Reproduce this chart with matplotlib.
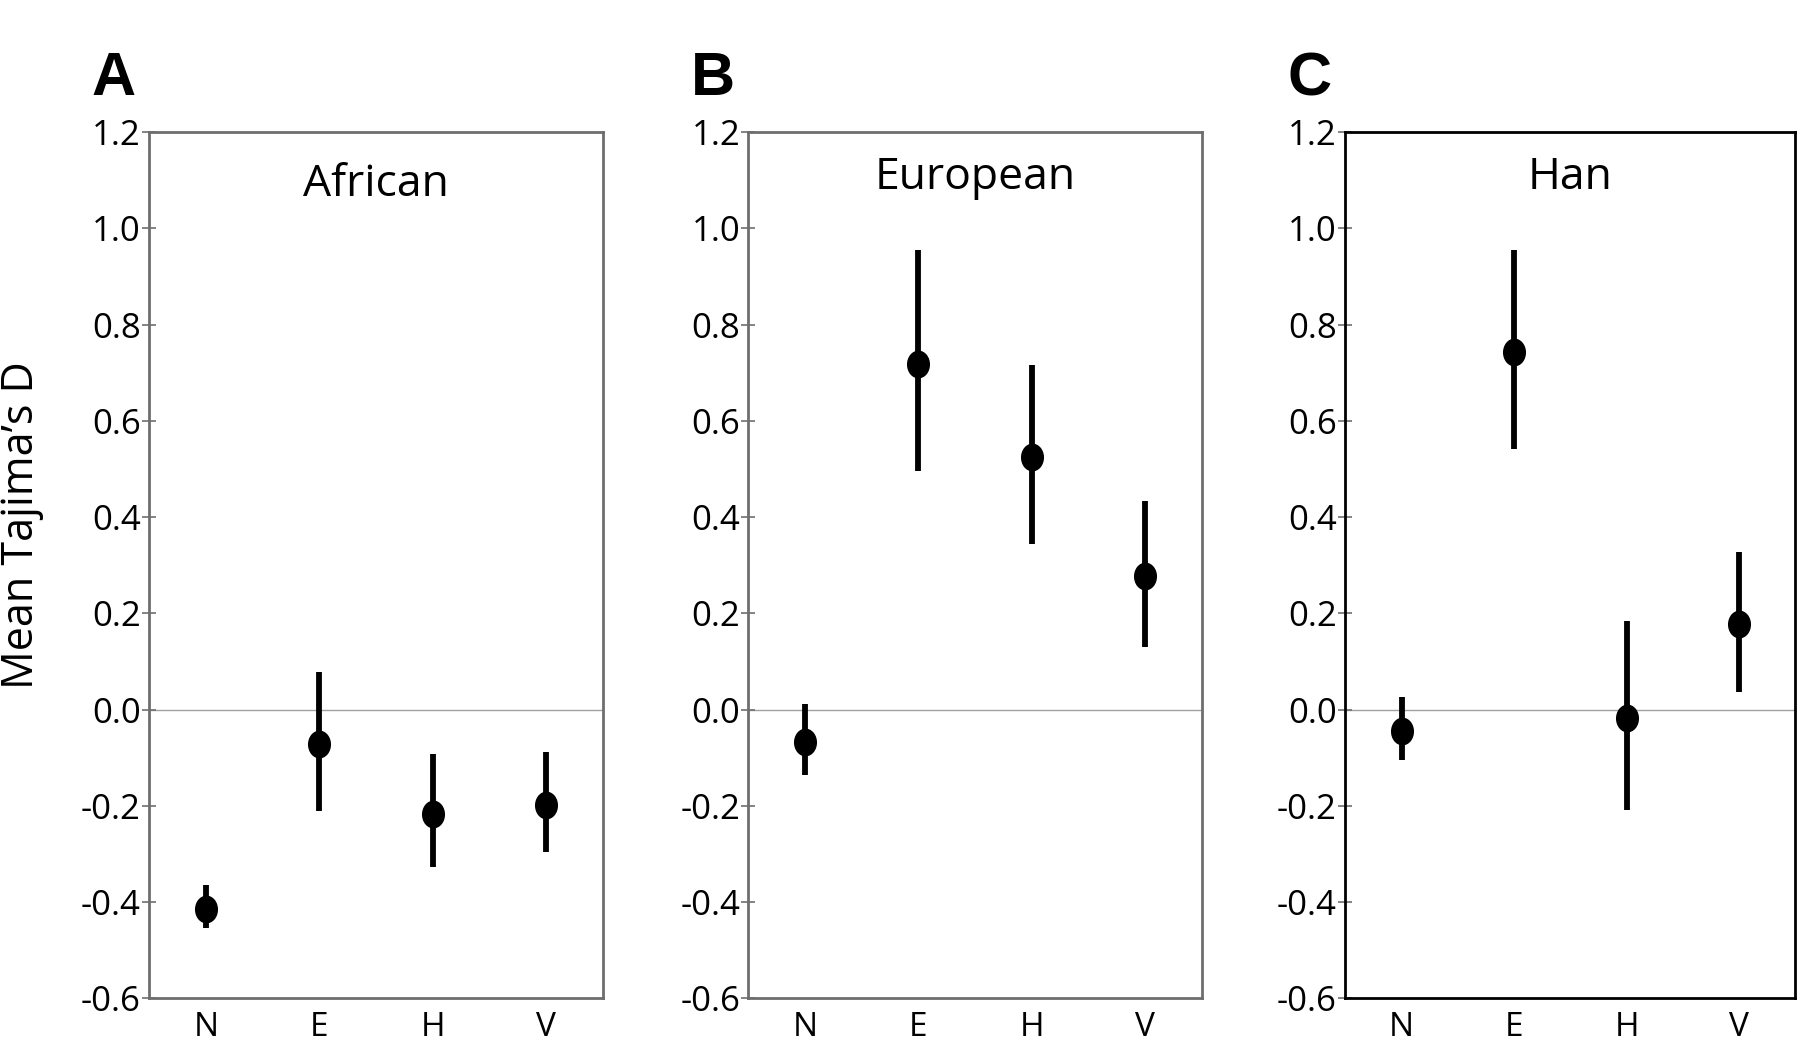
import matplotlib
matplotlib.use("Agg")
import matplotlib.pyplot as plt
import numpy as np
from matplotlib.path import Path

categories = ["N", "E", "H", "V"]
panels = ["A", "B", "C"]
populations = ["African", "European", "Han"]

african_mean = [-0.415, -0.072, -0.217, -0.198]
african_hi = [-0.365, 0.079, -0.093, -0.088]
african_lo = [-0.453, -0.210, -0.327, -0.296]

european_mean = [-0.067, 0.718, 0.525, 0.277]
european_hi = [0.012, 0.954, 0.716, 0.434]
european_lo = [-0.136, 0.496, 0.343, 0.129]

han_mean = [-0.045, 0.742, -0.017, 0.177]
han_hi = [0.026, 0.954, 0.184, 0.327]
han_lo = [-0.105, 0.541, -0.208, 0.036]

yticks = [-0.6, -0.4, -0.2, 0.0, 0.2, 0.4, 0.6, 0.8, 1.0, 1.2]
ytick_labels = ["-0.6", "-0.4", "-0.2", "0.0", "0.2", "0.4", "0.6", "0.8", "1.0", "1.2"]

data = [
    (african_mean, african_hi, african_lo),
    (european_mean, european_hi, european_lo),
    (han_mean, han_hi, han_lo),
]

plt.rcParams["font.family"] = ["Open Sans", "DejaVu Sans"]

fig = plt.figure(figsize=(18, 10.5), dpi=100)

lefts = [0.0829, 0.4158, 0.7474]
widths = [0.2519, 0.2519, 0.2500]
bottom, height = 0.0492, 0.8251
spine_colors = ["#6e6e6e", "#6e6e6e", "#000000"]
title_y = [1.09, 1.105, 1.105]

# ellipse marker (taller than wide)
circ = Path.unit_circle()
ell = Path(circ.vertices * np.array([0.82, 1.0]), circ.codes)

x = np.arange(1, len(categories) + 1)
for i, (mean, hi, lo) in enumerate(data):
    ax = fig.add_axes([lefts[i], bottom, widths[i], height])
    mean = np.array(mean); hi = np.array(hi); lo = np.array(lo)
    ax.axhline(0, color="#a0a0a0", lw=1.0, zorder=1)
    ax.vlines(x, lo, hi, color="black", lw=4.2, zorder=2)
    ax.plot(x, mean, linestyle="none", marker=ell, markersize=19,
            color="black", zorder=3)
    ax.set_xlim(0.5, 4.5)
    ax.set_ylim(-0.6, 1.2)
    ax.set_xticks(x)
    ax.set_xticklabels(categories, fontsize=24)
    ax.set_yticks(yticks)
    ax.set_yticklabels(ytick_labels, fontsize=25)
    ax.tick_params(axis="x", length=0, pad=9)
    ax.tick_params(axis="y", direction="inout", length=10, width=1.2,
                   color="#6e6e6e", pad=1)
    for s in ax.spines.values():
        s.set_color(spine_colors[i])
        s.set_linewidth(2.0)
    ax.text(2.5, title_y[i], populations[i], ha="center", va="center",
            fontsize=32)
    fig.text(lefts[i] - 0.020, 0.924, panels[i], ha="center", va="center",
             fontsize=44, fontweight="bold", family="Liberation Sans")

fig.text(0.012, 0.5, "Mean Tajima\u2019s D", rotation=90, ha="center",
         va="center", fontsize=31)

fig.savefig("out.png", dpi=100)
